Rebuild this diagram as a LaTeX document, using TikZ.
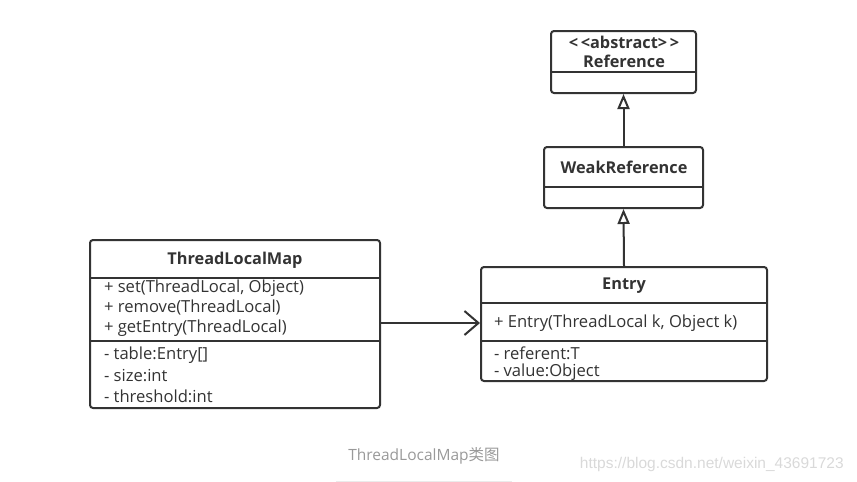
\documentclass[tikz,border=0pt]{standalone}
\usepackage{fontspec}
\setmainfont{Open Sans}
\newfontfamily\cjkfont{Noto Sans CJK SC}
\newfontfamily\markfont{Liberation Sans}
\usetikzlibrary{arrows.meta}
\definecolor{umlline}{HTML}{333333}
\definecolor{captiongray}{HTML}{999999}

\begin{document}
\begin{tikzpicture}[x=1pt,y=-1pt,line width=2pt,umlline,
  class box/.style={draw=umlline,rounded corners=3pt,minimum width=#1,inner sep=0pt},
  class title/.style={font=\fontsize{16.3}{18}\selectfont\bfseries,text=umlline},
  member/.style={anchor=west,font=\fontsize{16.6}{18}\selectfont,text=umlline,inner sep=0pt},
  inherit/.style={-{Triangle[open,length=15pt,width=12pt]}},
  assoc/.style={-{Straight Barb[length=14pt,width=24pt,line width=2pt]}}]
  \useasboundingbox (0,0) rectangle (857,482);

  % class boxes
  \node[class box=145pt,minimum height=62pt] (ref) at (623.5,62) {};
  \node[class box=159pt,minimum height=61pt] (weak) at (623.5,177.5) {};
  \node[class box=286pt,minimum height=114pt] (entry) at (624,324) {};
  \node[class box=290pt,minimum height=168pt] (map) at (235,324) {};

  % compartments
  \draw (ref.west |- 0,72) -- (ref.east |- 0,72);
  \draw (weak.west |- 0,187) -- (weak.east |- 0,187);
  \draw (entry.west |- 0,303) -- (entry.east |- 0,303);
  \draw (entry.west |- 0,341) -- (entry.east |- 0,341);
  \draw (map.west |- 0,278) -- (map.east |- 0,278);
  \draw (map.west |- 0,341) -- (map.east |- 0,341);

  % texts
  \node[class title] (reft1) at (624,42) {<\,<abstract>\,>};
  \node[class title] (reft2) at (624,61) {Reference};
  \node[class title] (weakt) at (624,167) {WeakReference};
  \node[class title] (entryt) at (624,286) {Entry};
  \node[class title] (mapt) at (235,260) {ThreadLocalMap};

  \node[member] (m1) at (103,288) {+ set(ThreadLocal, Object)};
  \node[member] (m2) at (103,308) {+ remove(ThreadLocal)};
  \node[member] (m3) at (103,328) {+ getEntry(ThreadLocal)};
  \node[member] (f1) at (103,355) {- table:Entry[]};
  \node[member] (f2) at (103,376) {- size:int};
  \node[member] (f3) at (103,396) {- threshold:int};

  \node[member] (e1) at (493,323) {+ Entry(ThreadLocal k, Object k)};
  \node[member] (e2) at (493,353) {- referent:T};
  \node[member] (e3) at (493,372) {- value:Object};

  % relations
  \draw[inherit] (weak.north) -- (ref.south);
  \draw[inherit] (entry.north) -- (weak.south);
  \draw[assoc] (map.east |- 0,323) -- (entry.west |- 0,323);

  % caption
  \node[font=\fontsize{15.5}{17}\selectfont,text=captiongray] (cap) at (424,456) {ThreadLocalMap{\cjkfont 类图}};
  \draw[line width=0.8pt,black!8] (336,481) -- (512,481);
  \node[font=\markfont\fontsize{15.5}{17}\selectfont,text=black!15,anchor=east] (mark) at (848,464) {https://blog.csdn.net/weixin\_43691723};
\end{tikzpicture}
\end{document}
